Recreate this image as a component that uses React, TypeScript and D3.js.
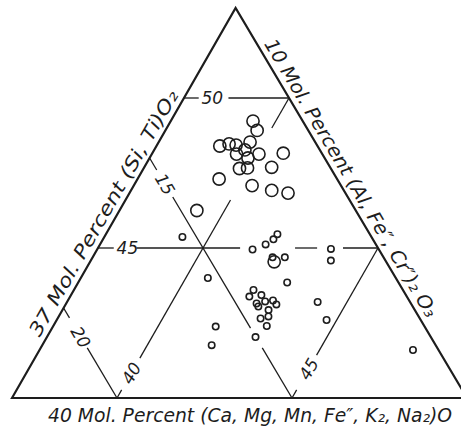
import React from "react";
import * as d3 from "d3";

// grid values of the zoomed ternary field
const roTicks = [50, 45]; // (Ca,Mg,Mn,Fe'',K2,Na2)O, lines parallel to the base
const silicaTicks = [40, 45]; // (Si,Ti)O2, lines parallel to the left side
const sesquiTicks = [20, 15]; // (Al,Fe''',Cr''')2O3, lines parallel to the right side

// samples as [RO mol %, (Si,Ti)O2 mol %]; the sesquioxides make up the rest
const coarseSamples = [
  [49.23, 39.35], [48.92, 39.62], [48.4, 38.81], [48.47, 39.04], [48.43, 39.26],
  [48.53, 39.61], [48.27, 39.59], [48.13, 39.42], [48.13, 40.06], [48.0, 39.81],
  [47.65, 39.74], [47.67, 39.96], [48.16, 40.74], [47.69, 40.64], [47.3, 39.33],
  [47.08, 40.38], [46.92, 41.02], [46.83, 41.53], [46.25, 39.21], [44.54, 42.26],
];

const fineSamples = [
  [45.37, 39.23], [44.95, 41.44], [45.12, 41.73], [45.29, 41.87], [45.46, 41.9],
  [44.69, 42.14], [44.69, 42.49], [44.97, 43.67], [44.58, 43.86], [44.0, 40.63],
  [43.85, 42.97], [43.6, 42.13], [43.38, 42.12], [43.43, 42.44], [43.15, 42.44],
  [43.22, 42.65], [43.25, 42.86], [43.12, 43.02], [43.05, 42.54], [42.93, 42.89],
  [42.65, 42.8], [42.72, 42.99], [42.4, 43.1], [43.2, 44.16], [42.6, 44.71],
  [42.38, 41.65], [42.03, 42.96], [41.76, 41.84], [41.6, 47.67],
];

const W = 461;
const H = 435;
const ink = "#1d1d1d";
const font = "'DejaVu Sans', sans-serif";

const x = d3.scaleLinear().domain([37, 50]).range([12, 467]);
const y = d3.scaleLinear().domain([40, 53]).range([398, 8]);
const lean = d3.scaleLinear().domain([40, 53]).range([0, 223.6]);

const pt = (ro: number, si: number): [number, number] => [x(si) + lean(ro), y(ro)];
const line = d3.line();

// pieces of each grid line (breaks left for the lettering and the dots)
const roRuns: Record<number, number[][]> = {
  50: [[37, 37.42], [38.27, 40]],
  45: [[37, 37.45], [38.1, 41.06], [42.63, 43.26], [44.0, 45]],
};
const silicaRuns: Record<number, number[][]> = {
  40: [[40, 40.27], [41.33, 46.6], [49.0, 50]],
  45: [[40, 40.27], [41.43, 45]],
};
const sesquiRuns: Record<number, number[][]> = {
  20: [[40, 41.67], [42.67, 43]],
  15: [[40, 41.67], [42.33, 46.7], [47.6, 48]],
};

const roLabelAt: Record<number, number> = { 50: 37.81, 45: 37.84 };
const silicaLabelAt: Record<number, number> = { 40: 40.83, 45: 40.97 };
const sesquiLabelAt: Record<number, number> = { 20: 42.03, 15: 47.13 };

const deg = (a: [number, number], b: [number, number]) =>
  (Math.atan2(b[1] - a[1], b[0] - a[0]) * 180) / Math.PI;

export default function App() {
  const bl = pt(40, 37);
  const top = pt(53, 37);
  const br = pt(40, 50);
  const leftAngle = deg(bl, top);
  const rightAngle = deg(top, br);

  const segs: [number, number][][] = [];
  roTicks.forEach((v) => roRuns[v].forEach(([a, b]) => segs.push([pt(v, a), pt(v, b)])));
  silicaTicks.forEach((v) => silicaRuns[v].forEach(([a, b]) => segs.push([pt(a, v), pt(b, v)])));
  sesquiTicks.forEach((v) =>
    sesquiRuns[v].forEach(([a, b]) => segs.push([pt(a, 100 - v - a), pt(b, 100 - v - b)]))
  );

  return (
    <svg
      width={W}
      height={H}
      style={{ position: "absolute", left: 0, top: 0, background: "#fff" }}
    >
      <g fill="none" stroke={ink} strokeWidth={1.3}>
        {segs.map((s, i) => (
          <path key={i} d={line(s) ?? ""} />
        ))}
      </g>
      <path
        d={line([bl, top, br, bl]) + "Z"}
        fill="none"
        stroke={ink}
        strokeWidth={2.2}
        strokeLinejoin="miter"
      />

      <g fill="none" stroke={ink} strokeWidth={1.6}>
        {coarseSamples.map(([ro, si], i) => {
          const [cx, cy] = pt(ro, si);
          return <circle key={"c" + i} cx={cx} cy={cy} r={6.1} />;
        })}
        {fineSamples.map(([ro, si], i) => {
          const [cx, cy] = pt(ro, si);
          return <circle key={"f" + i} cx={cx} cy={cy} r={3.2} />;
        })}
      </g>

      <g fill={ink} fontFamily={font} fontStyle="italic" fontSize={17} textAnchor="middle">
        {roTicks.map((v) => {
          const [tx, ty] = pt(v, roLabelAt[v]);
          return (
            <text key={"r" + v} x={tx} y={ty} dy="0.36em">
              {v}
            </text>
          );
        })}
        {silicaTicks.map((v) => {
          const [tx, ty] = pt(silicaLabelAt[v], v);
          return (
            <text key={"s" + v} transform={`translate(${tx},${ty}) rotate(${leftAngle})`} dy="0.36em">
              {v}
            </text>
          );
        })}
        {sesquiTicks.map((v) => {
          const ro = sesquiLabelAt[v];
          const [tx, ty] = pt(ro, 100 - v - ro);
          return (
            <text key={"q" + v} transform={`translate(${tx},${ty}) rotate(${rightAngle})`} dy="0.36em">
              {v}
            </text>
          );
        })}
      </g>

      <g fill={ink} fontFamily={font} fontStyle="italic" fontSize={19}>
        <text
          transform={`translate(${bl[0]},${bl[1]}) rotate(${leftAngle})`}
          x={66}
          y={-6}
          textLength={280}
          lengthAdjust="spacingAndGlyphs"
        >
          37 Mol. Percent (Si, Ti)O₂
        </text>
        <text
          transform={`translate(${top[0]},${top[1]}) rotate(${rightAngle})`}
          x={45}
          y={-6}
          textLength={320}
          lengthAdjust="spacingAndGlyphs"
        >
          10 Mol. Percent (Al, Fe″, Cr″)₂ O₃
        </text>
        <text x={48} y={422} textLength={404} lengthAdjust="spacingAndGlyphs">
          40 Mol. Percent (Ca, Mg, Mn, Fe″, K₂, Na₂)O
        </text>
      </g>
    </svg>
  );
}
